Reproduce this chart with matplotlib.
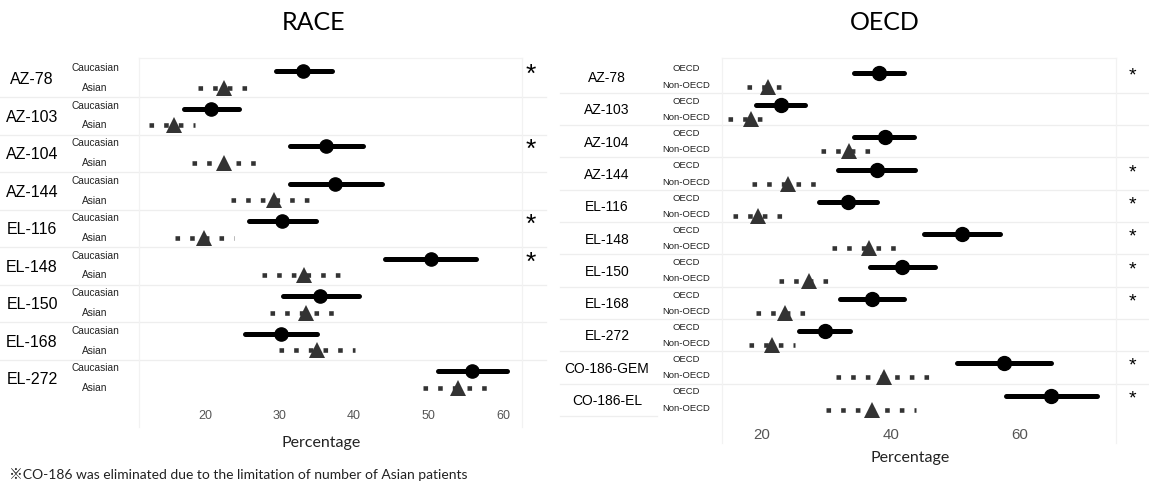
import matplotlib
matplotlib.use("Agg")
import matplotlib.pyplot as plt
from matplotlib.lines import Line2D
from matplotlib.transforms import blended_transform_factory as btf

W, H = 1149, 486
DPI = 100

# ---------------- data ----------------
race_trials = ["AZ-78", "AZ-103", "AZ-104", "AZ-144", "EL-116", "EL-148", "EL-150", "EL-168", "EL-272"]
race_groups = ["Caucasian", "Asian"]
race_cauc_est = [33.2, 20.8, 36.3, 37.4, 30.3, 50.3, 35.5, 30.2, 55.8]
race_cauc_lo = [29.5, 17.2, 31.4, 31.4, 25.9, 44.1, 30.5, 25.4, 51.3]
race_cauc_hi = [37.0, 24.5, 41.2, 43.7, 34.9, 56.4, 40.7, 35.1, 60.5]
race_asian_est = [22.5, 15.8, 22.6, 29.3, 19.9, 33.3, 33.6, 35.1, 54.0]
race_asian_lo = [19.0, 12.5, 18.3, 23.5, 16.0, 27.6, 28.7, 29.9, 49.2]
race_asian_hi = [25.8, 18.7, 26.9, 34.8, 23.9, 38.8, 38.5, 40.1, 58.6]
race_sig = [True, False, True, False, True, True, False, False, False]
race_ticks = [20, 30, 40, 50, 60]

oecd_trials = ["AZ-78", "AZ-103", "AZ-104", "AZ-144", "EL-116", "EL-148", "EL-150", "EL-168",
               "EL-272", "CO-186-GEM", "CO-186-EL"]
oecd_groups = ["OECD", "Non-OECD"]
oecd_est = [38.1, 22.9, 39.0, 37.8, 33.3, 51.0, 41.7, 37.0, 29.8, 57.6, 64.8]
oecd_lo = [34.2, 19.0, 34.2, 31.8, 28.8, 45.2, 36.7, 32.1, 25.8, 50.2, 57.8]
oecd_hi = [42.0, 26.7, 43.5, 43.8, 37.9, 56.9, 46.8, 42.1, 33.7, 64.8, 72.0]
non_est = [20.9, 18.3, 33.5, 24.0, 19.4, 36.6, 27.3, 23.5, 21.6, 38.9, 37.0]
non_lo = [17.6, 14.8, 29.1, 18.5, 15.5, 30.8, 22.7, 19.0, 18.0, 31.5, 29.9]
non_hi = [24.0, 21.5, 37.9, 28.9, 23.2, 42.2, 31.7, 27.6, 25.1, 46.0, 43.9]
oecd_sig = [True, False, False, True, True, True, True, True, False, True, True]
oecd_ticks = [20, 40, 60]

titles = ["RACE", "OECD"]
xlabel = "Percentage"
footnote = "※CO-186 was eliminated due to the limitation of number of Asian patients"

# ---------------- figure ----------------
fig = plt.figure(figsize=(W / DPI, H / DPI), dpi=DPI)
fig.patch.set_facecolor("white")

SEP = "#eeeeee"
BOX = "#f2f2f2"
TRI = "#333333"
LABEL_FONT = ["Liberation Sans", "DejaVu Sans"]
CAL_FONT = ["Lato", "Noto Sans CJK JP", "DejaVu Sans"]


def fx(px):
    return px / W


def fy(py):
    return 1 - py / H


def panel(cfg, trials, groups, e1, l1, h1, e2, l2, h2, sig, ticks, title):
    left, right, top, bottom = cfg["box"]
    pitch = cfg["pitch"]
    ax = fig.add_axes([fx(left), fy(bottom), fx(right) - fx(left), (bottom - top) / H])
    ax.set_xlim(*cfg["xlim"])
    ax.set_ylim((bottom - top) / pitch, 0)
    for s in ax.spines.values():
        s.set_visible(False)
    ax.set_yticks([])
    ax.set_xticks(ticks)
    ax.set_xticklabels([str(t) for t in ticks])
    ax.tick_params(axis="x", length=0, pad=cfg["tickpad"], labelsize=cfg["ticksize"],
                   labelcolor="#555555")
    for lab in ax.get_xticklabels():
        lab.set_fontfamily(LABEL_FONT)
    ax.patch.set_alpha(0)

    tr = btf(fig.transFigure, ax.transData)
    n = len(trials)
    for i in range(n):
        yc = i + cfg["yc"]
        yt = i + cfg["yt"]
        ax.plot([l1[i], h1[i]], [yc, yc], color="black", lw=cfg["lw1"],
                solid_capstyle="round", zorder=3)
        ax.plot([e1[i]], [yc], marker="o", ms=cfg["ms1"], color="black", zorder=4)
        ax.plot([l2[i], h2[i]], [yt, yt], color=TRI, lw=cfg["lw2"],
                linestyle=(0, (1, 2.2)), dash_capstyle="butt", zorder=3)
        ax.plot([e2[i]], [yt], marker="^", ms=cfg["ms2"], color=TRI, zorder=4,
                markeredgewidth=0)
        # labels
        ax.text(fx(cfg["gx"]), i + cfg["yg"], trials[i], transform=tr, ha="center",
                va="center", fontsize=cfg["gsize"], family=LABEL_FONT, color="black")
        ax.text(fx(cfg["sx"]), i + cfg["ys1"], groups[0], transform=tr, ha="center",
                va="center", fontsize=cfg["ssize"], family=LABEL_FONT, color="#222222")
        ax.text(fx(cfg["sx"]), i + cfg["ys2"], groups[1], transform=tr, ha="center",
                va="center", fontsize=cfg["ssize"], family=LABEL_FONT, color="#222222")
        if sig[i]:
            ax.text(fx(cfg["astx"]), i + cfg["yast"], "*", transform=tr, ha="center",
                    va="center", fontsize=cfg["astsize"], family=LABEL_FONT, color="black")
        # separators
        if i < n - 1:
            ys = i + cfg["ysep"]
            ax.plot([fx(cfg["sepx"][0]), fx(cfg["sepx"][1])], [ys, ys], transform=tr,
                    clip_on=False, color=SEP, lw=0.9, zorder=1)
    if cfg.get("lastsep") is not None:
        ys = n - 1 + cfg["ysep"]
        ax.plot([fx(cfg["lastsep"][0]), fx(cfg["lastsep"][1])], [ys, ys], transform=tr,
                clip_on=False, color=SEP, lw=0.9, zorder=1)

    # faint box
    bb = cfg["boxbottom"]
    for x in (left, right):
        fig.add_artist(Line2D([fx(x), fx(x)], [fy(top), fy(bb)], color=BOX, lw=0.9))
    fig.add_artist(Line2D([fx(left), fx(right)], [fy(top), fy(top)], color=BOX, lw=0.9))

    # titles / axis label
    fig.text(fx(cfg["titlex"]), fy(22), title, ha="center", va="center", fontsize=18,
             family=CAL_FONT, color="black")
    fig.text(fx(cfg["xlabx"]), fy(cfg["xlaby"]), xlabel, ha="center", va="center",
             fontsize=11.5, family=CAL_FONT, color="#222222")
    return ax


race_cfg = dict(box=(139, 522, 58, 400), pitch=37.5, xlim=(11.14, 62.55),
                yc=0.347, yt=0.787, yg=0.58, ys1=0.27, ys2=0.80, ysep=1.05, yast=0.46,
                gx=32, sx=95, astx=531, sepx=(0, 546), lastsep=None,
                gsize=11.5, ssize=7.3, astsize=19, ticksize=9, tickpad=7,
                lw1=3.6, lw2=3.3, ms1=9.5, ms2=11.5,
                boxbottom=427, titlex=313, xlabx=321, xlaby=443)

oecd_cfg = dict(box=(722, 1116, 58, 420), pitch=32.3, xlim=(13.8, 74.9),
                yc=0.457, yt=0.89, yg=0.62, ys1=0.34, ys2=0.84, ysep=1.08, yast=0.55,
                gx=607, sx=686, astx=1132, sepx=(560, 1149), lastsep=(560, 657),
                gsize=10, ssize=6.8, astsize=14, ticksize=10.8, tickpad=6,
                lw1=3.6, lw2=3.3, ms1=10, ms2=12,
                boxbottom=443, titlex=885, xlabx=910, xlaby=458)

panel(race_cfg, race_trials, race_groups, race_cauc_est, race_cauc_lo, race_cauc_hi,
      race_asian_est, race_asian_lo, race_asian_hi, race_sig, race_ticks, titles[0])
panel(oecd_cfg, oecd_trials, oecd_groups, oecd_est, oecd_lo, oecd_hi,
      non_est, non_lo, non_hi, oecd_sig, oecd_ticks, titles[1])

fig.text(fx(9), fy(474), footnote, ha="left", va="center", fontsize=10,
         family=CAL_FONT, color="#222222")

fig.savefig("out.png", dpi=DPI, facecolor="white")
